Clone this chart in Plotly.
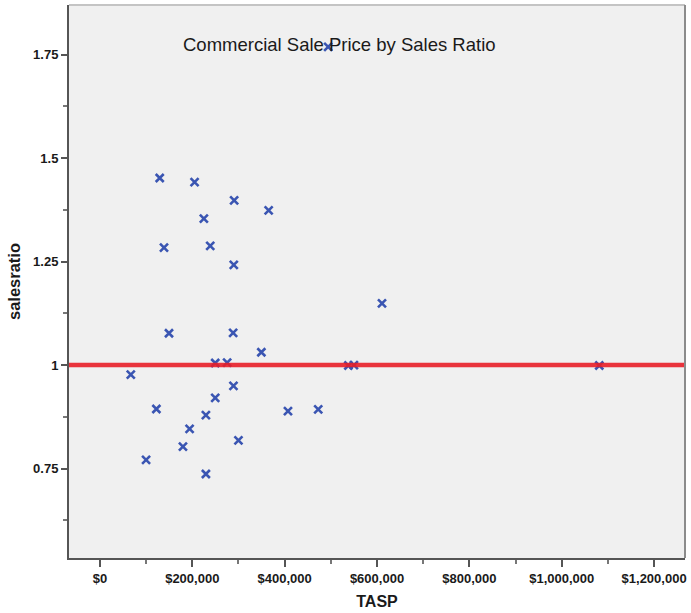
import plotly.graph_objects as go

# Data
tasp = [129500, 205000, 290700, 365400, 225100, 138800, 238900, 289900,
        610800, 149600, 288500, 349600, 249700, 275500, 538000, 550000,
        66900, 289200, 249700, 122300, 407200, 472700, 229500, 194200,
        179800, 300000, 100000, 229500, 1081300, 494200]
salesratio = [1.452, 1.442, 1.398, 1.374, 1.354, 1.284, 1.288, 1.242,
              1.149, 1.077, 1.078, 1.031, 1.005, 1.006, 0.999, 1.000,
              0.977, 0.950, 0.921, 0.894, 0.889, 0.893, 0.879, 0.846,
              0.803, 0.818, 0.771, 0.737, 0.999, 1.769]
reference_ratio = 1.0

x_tickvals = [0, 200000, 400000, 600000, 800000, 1000000, 1200000]
x_ticktext = ["$0", "$200,000", "$400,000", "$600,000", "$800,000", "$1,000,000", "$1,200,000"]
y_tickvals = [0.75, 1.0, 1.25, 1.5, 1.75]
y_ticktext = ["0.75", "1", "1.25", "1.5", "1.75"]

title_text = "Commercial Sale Price by Sales Ratio"
x_title = "TASP"
y_title = "salesratio"

x_range = [-66900, 1266900]
y_range = [0.534, 1.870]

fig = go.Figure()
fig.add_trace(go.Scatter(
    x=tasp, y=salesratio, mode="markers",
    marker=dict(symbol="x-thin", size=8, color="#3a55b2",
                line=dict(width=2.6, color="#3a55b2")),
    showlegend=False, hoverinfo="x+y"))
fig.add_trace(go.Scatter(
    x=x_range, y=[reference_ratio, reference_ratio], mode="lines",
    line=dict(color="rgba(232,30,40,0.9)", width=4.5),
    showlegend=False, hoverinfo="skip"))

tickfont = dict(family="Liberation Sans", size=13, color="#1a1a1a")

fig.update_layout(
    width=691, height=613,
    margin=dict(l=69, r=4, t=5, b=55),
    paper_bgcolor="white", plot_bgcolor="#f0f0f0",
    font=dict(family="Liberation Sans"),
    xaxis=dict(range=x_range, tickvals=x_tickvals, ticktext=x_ticktext,
               showgrid=False, zeroline=False, showline=True,
               linecolor="#555555", linewidth=2, mirror=False,
               ticks="outside", ticklen=7, tickwidth=2, tickcolor="#555555",
               tickfont=dict(tickfont, weight="bold"),
               minor=dict(dtick=100000, tick0=0, ticks="outside", ticklen=4,
                          tickwidth=1.5, tickcolor="#777777", showgrid=False),
               title=dict(text=x_title, font=dict(size=16, color="#1a1a1a", weight="bold"),
                          standoff=11)),
    yaxis=dict(range=y_range, tickvals=y_tickvals, ticktext=y_ticktext,
               showgrid=False, zeroline=False, showline=True,
               linecolor="#555555", linewidth=2, mirror=False,
               ticks="outside", ticklen=6, tickwidth=2, tickcolor="#555555",
               tickfont=dict(tickfont, weight="bold"),
               minor=dict(dtick=0.125, tick0=0.5, ticks="outside", ticklen=4,
                          tickwidth=1.5, tickcolor="#777777", showgrid=False),
               title=dict(text=y_title, font=dict(size=16.5, color="#1a1a1a", weight="bold"),
                          standoff=8)),
    shapes=[
        dict(type="line", xref="paper", yref="paper", x0=0, x1=1, y0=1, y1=1,
             line=dict(color="#c4c4c4", width=2)),
        dict(type="line", xref="paper", yref="paper", x0=1, x1=1, y0=0, y1=1,
             line=dict(color="#8c8c8c", width=2)),
    ],
    annotations=[dict(text=title_text, xref="paper", yref="paper",
                      x=0.4385, y=0.928, xanchor="center", yanchor="middle",
                      showarrow=False,
                      font=dict(family="Liberation Sans", size=18.5, color="#1a1a1a"))],
)

fig.write_html("out.html", config={"displayModeBar": False},
               post_script="document.body.style.margin='0px';")
